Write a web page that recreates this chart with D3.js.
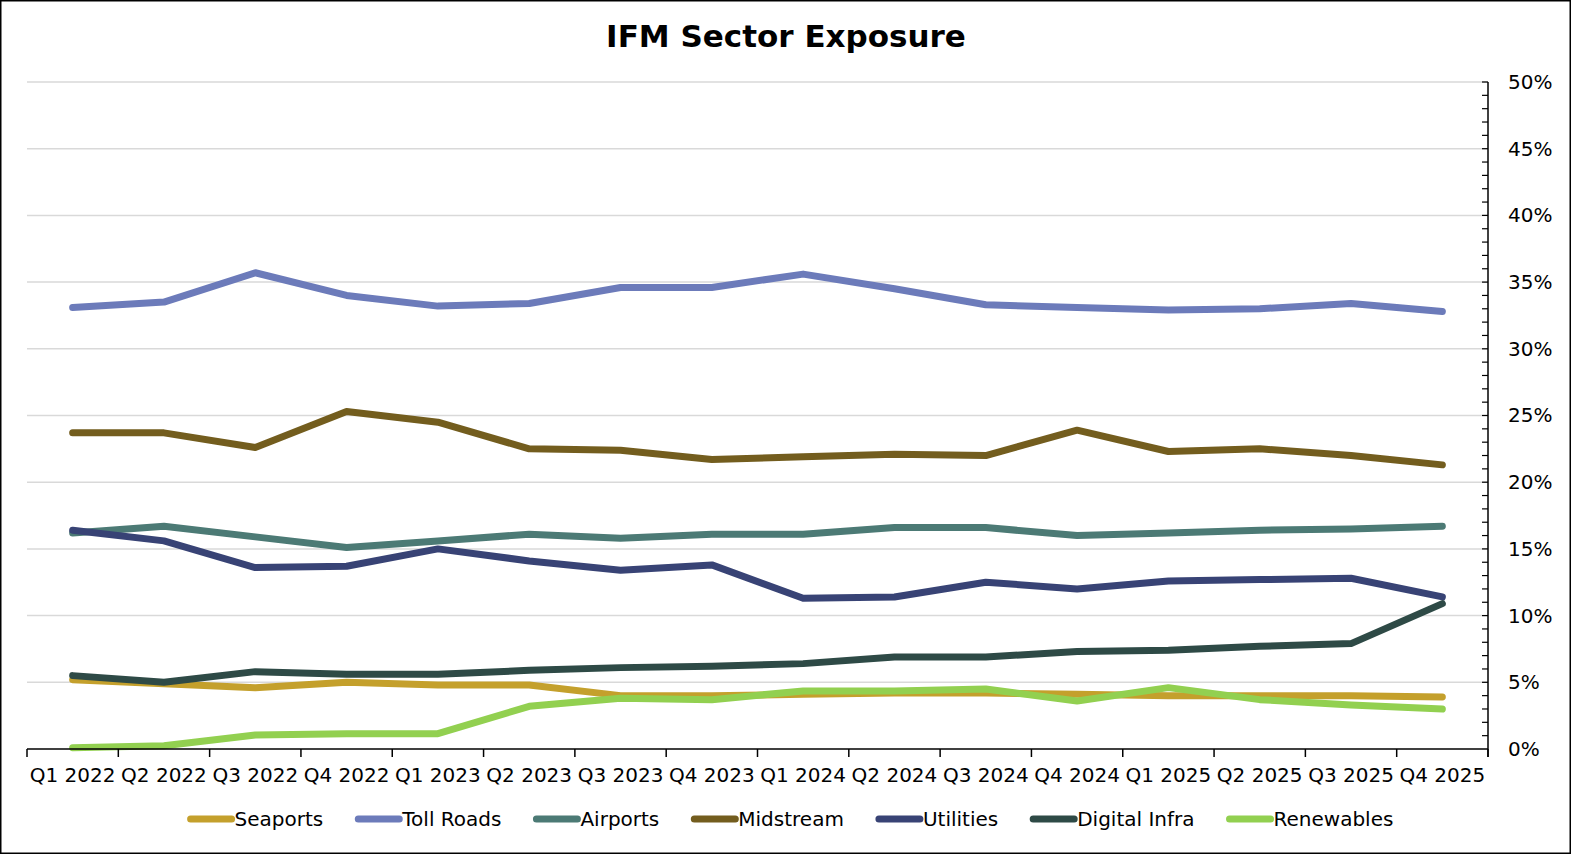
<!doctype html>
<html>
<head>
<meta charset="utf-8">
<title>IFM Sector Exposure</title>
<style>
  html, body { margin: 0; padding: 0; background: #fff; }
  svg { display: block; font-family: "DejaVu Sans", Verdana, sans-serif; }
</style>
</head>
<body>
<svg id="chart" width="1571" height="854"></svg>
<script src="https://cdn.jsdelivr.net/npm/d3@7"></script>
<script>
// quarters on the x axis
var quarters = ["Q1 2022", "Q2 2022", "Q3 2022", "Q4 2022",
                "Q1 2023", "Q2 2023", "Q3 2023", "Q4 2023",
                "Q1 2024", "Q2 2024", "Q3 2024", "Q4 2024",
                "Q1 2025", "Q2 2025", "Q3 2025", "Q4 2025"];

var yTicks = [0, 5, 10, 15, 20, 25, 30, 35, 40, 45, 50];

// sector weights, percent
var seaports    = [5.2, 4.9, 4.6, 5.0, 4.8, 4.8, 4.0, 4.0, 4.1, 4.2, 4.2, 4.1, 4.0, 4.0, 4.0, 3.9];
var tollRoads   = [33.1, 33.5, 35.7, 34.0, 33.2, 33.4, 34.6, 34.6, 35.6, 34.5, 33.3, 33.1, 32.9, 33.0, 33.4, 32.8];
var airports    = [16.2, 16.7, 15.9, 15.1, 15.6, 16.1, 15.8, 16.1, 16.1, 16.6, 16.6, 16.0, 16.2, 16.4, 16.5, 16.7];
var midstream   = [23.7, 23.7, 22.6, 25.3, 24.5, 22.5, 22.4, 21.7, 21.9, 22.1, 22.0, 23.9, 22.3, 22.5, 22.0, 21.3];
var utilities   = [16.4, 15.6, 13.6, 13.7, 15.0, 14.1, 13.4, 13.8, 11.3, 11.4, 12.5, 12.0, 12.6, 12.7, 12.8, 11.4];
var digital     = [5.5, 5.0, 5.8, 5.6, 5.6, 5.9, 6.1, 6.2, 6.4, 6.9, 6.9, 7.3, 7.4, 7.7, 7.9, 10.9];
var renewables  = [0.1, 0.25, 1.05, 1.15, 1.15, 3.2, 3.8, 3.7, 4.35, 4.35, 4.5, 3.6, 4.6, 3.7, 3.3, 3.0];

var series = [
  { name: "Seaports",     values: seaports,   color: "#c4a02c" },
  { name: "Toll Roads",   values: tollRoads,  color: "#6c7bba" },
  { name: "Airports",     values: airports,   color: "#4c7a75" },
  { name: "Midstream",    values: midstream,  color: "#735d1e" },
  { name: "Utilities",    values: utilities,  color: "#384375" },
  { name: "Digital Infra",values: digital,    color: "#2e4a46" },
  { name: "Renewables",   values: renewables, color: "#92d050" }
];

var svg = d3.select("#chart");
var W = 1571, H = 854;
var plotLeft = 27, plotRight = 1488, plotTop = 82, plotBottom = 749;

svg.append("rect")
  .attr("x", 0.75).attr("y", 0.75)
  .attr("width", W - 1.5).attr("height", H - 1.5)
  .attr("fill", "#fff").attr("stroke", "#000").attr("stroke-width", 1.5);

svg.append("text")
  .attr("x", 786).attr("y", 47)
  .attr("text-anchor", "middle")
  .style("font-size", "31px").style("font-weight", "bold")
  .text("IFM Sector Exposure");

var x = d3.scaleBand().domain(quarters).range([plotLeft, plotRight]);
var y = d3.scaleLinear().domain([0, 50]).range([plotBottom, plotTop]);

// gridlines
svg.append("g")
  .selectAll("line")
  .data(yTicks.filter(function(d) { return d > 0; }))
  .enter().append("line")
  .attr("x1", plotLeft).attr("x2", plotRight)
  .attr("y1", function(d) { return y(d); })
  .attr("y2", function(d) { return y(d); })
  .attr("stroke", "#d9d9d9").attr("stroke-width", 1.5);

// lines
var line = d3.line()
  .x(function(d, i) { return x(quarters[i]) + x.bandwidth() / 2; })
  .y(function(d) { return y(d); });

svg.append("g")
  .selectAll("path")
  .data(series)
  .enter().append("path")
  .attr("d", function(s) { return line(s.values); })
  .attr("fill", "none")
  .attr("stroke", function(s) { return s.color; })
  .attr("stroke-width", 7)
  .attr("stroke-linecap", "round")
  .attr("stroke-linejoin", "round");

// x axis
var xAxis = svg.append("g").attr("transform", "translate(0," + plotBottom + ")");
xAxis.append("line")
  .attr("x1", plotLeft).attr("x2", plotRight)
  .attr("stroke", "#000").attr("stroke-width", 1.5);
var bounds = quarters.map(function(q) { return x(q); }).concat([plotRight]);
xAxis.selectAll(".tk")
  .data(bounds)
  .enter().append("line")
  .attr("x1", function(d) { return d; }).attr("x2", function(d) { return d; })
  .attr("y1", 0).attr("y2", 8)
  .attr("stroke", "#000").attr("stroke-width", 1.5);
xAxis.selectAll("text")
  .data(quarters)
  .enter().append("text")
  .attr("x", function(d) { return x(d) + x.bandwidth() / 2; })
  .attr("y", 33)
  .attr("text-anchor", "middle")
  .style("font-size", "20px")
  .text(function(d) { return d; });

// y axis on the right
var yAxis = d3.axisRight(y)
  .tickValues(yTicks)
  .tickSize(0)
  .tickPadding(20)
  .tickFormat(function(d) { return d + "%"; });
var yg = svg.append("g").attr("transform", "translate(" + plotRight + ",0)").call(yAxis);
yg.select(".domain").remove();
yg.selectAll("text").style("font-size", "20px").style("font-family", "DejaVu Sans, Verdana, sans-serif").attr("fill", "#000");
yg.append("line")
  .attr("y1", plotTop).attr("y2", plotBottom + 8)
  .attr("stroke", "#000").attr("stroke-width", 1.5);
yg.selectAll(".minor")
  .data(d3.range(1, 51))
  .enter().append("line")
  .attr("x1", -6).attr("x2", 0)
  .attr("y1", function(d) { return y(d); })
  .attr("y2", function(d) { return y(d); })
  .attr("stroke", "#000").attr("stroke-width", 1.2);

// legend
var legend = svg.append("g").attr("transform", "translate(0,819)");
var items = legend.selectAll("g")
  .data(series)
  .enter().append("g");
items.append("line")
  .attr("x1", 3).attr("x2", 44)
  .attr("stroke", function(s) { return s.color; })
  .attr("stroke-width", 7)
  .attr("stroke-linecap", "round");
items.append("text")
  .attr("x", 47).attr("y", 7)
  .style("font-size", "20px")
  .text(function(s) { return s.name; });
var pos = 0, gap = 35, offsets = [];
items.each(function() {
  offsets.push(pos);
  pos += this.getBBox().width + gap;
});
var total = pos - gap;
var start = 789 - total / 2;
items.attr("transform", function(s, i) { return "translate(" + (start + offsets[i]) + ",0)"; });
</script>
</body>
</html>
